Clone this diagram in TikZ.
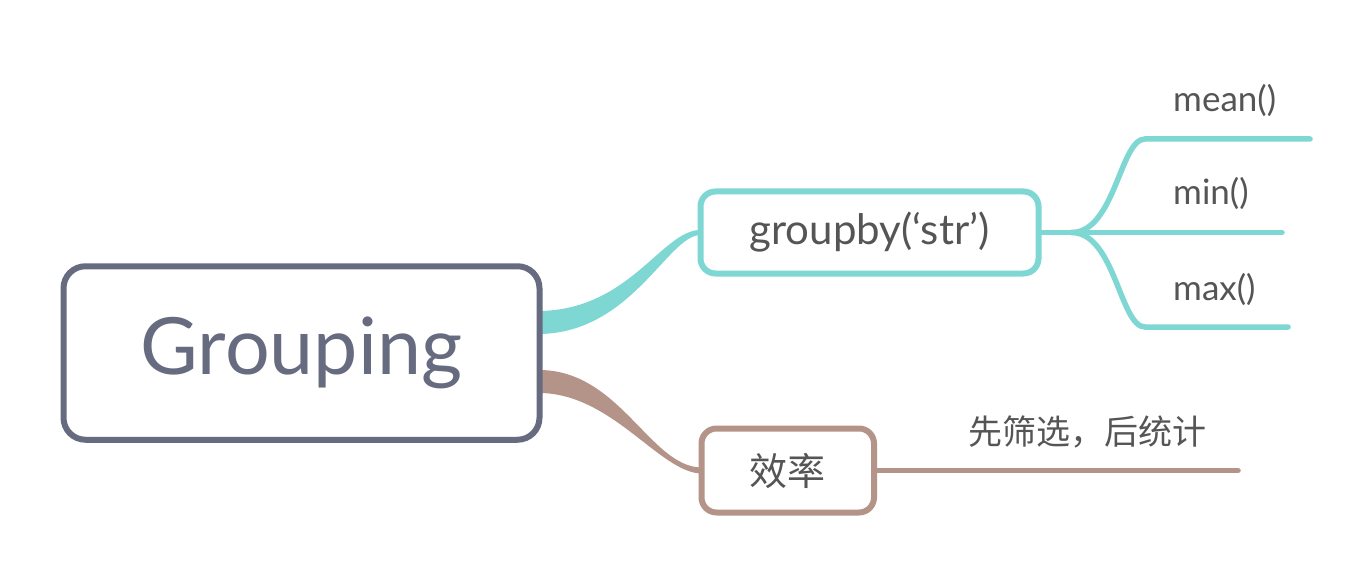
\documentclass[tikz,border=0pt]{standalone}
\usepackage{fontspec}
\setmainfont{Lato}
\newfontfamily\cjk{Noto Sans CJK SC}
\usetikzlibrary{calc,backgrounds}
\definecolor{slatec}{HTML}{676B80}
\definecolor{tealc}{HTML}{7ED7D2}
\definecolor{rosec}{HTML}{B49489}
\definecolor{txtc}{HTML}{555555}
\pgfdeclarelayer{bottomlayer}
\pgfsetlayers{bottomlayer,background,main}
\begin{document}
\begin{tikzpicture}[x=1pt,y=-1pt,
  box/.style={draw, line width=6pt, fill=white, inner sep=0pt},
  conn/.style={line width=5.5pt, line cap=round},
  lbl/.style={text=txtc, font=\fontsize{35}{40}\selectfont, anchor=base west, inner sep=0pt}]
\begin{pgfonlayer}{bottomlayer}
\useasboundingbox[fill=white] (0,0) rectangle (1372,577);
\end{pgfonlayer}

\node[box, draw=slatec, rounded corners=22pt, minimum width=476pt, minimum height=173.5pt,
      text=slatec, font=\fontsize{79}{90}\selectfont] (main) at (301.5,353) {Grouping};
\node[box, draw=tealc, rounded corners=15pt, minimum width=338pt, minimum height=82pt,
      text=txtc, font=\fontsize{42}{48}\selectfont] (gb) at (869.5,232.5) {groupby(‘str’)};
\node[box, draw=rosec, rounded corners=15pt, minimum width=172.5pt, minimum height=84pt,
      text=txtc, font=\cjk\fontsize{38}{44}\selectfont] (eff) at (787.75,470.5) {效率};

\begin{pgfonlayer}{background}
\fill[tealc] ($(main.east)+(-3.5,-42)$) .. controls (630,310) and (662,230) .. ($(gb.west)+(3,-2.5)$)
  -- ($(gb.west)+(3,2.5)$) .. controls (668,235) and (632,333) .. ($(main.east)+(-3.5,-19)$) -- cycle;
\fill[rosec] ($(main.east)+(-3.5,17)$) .. controls (620,370) and (650,467) .. ($(eff.west)+(3,-3)$)
  -- ($(eff.west)+(3,3)$) .. controls (660,473) and (612,393) .. ($(main.east)+(-3.5,40)$) -- cycle;
\end{pgfonlayer}

\coordinate (fork) at ($(gb.east)+(30,0)$);
\coordinate (meanE) at (1310,139);
\coordinate (minE) at (1282,232.5);
\coordinate (maxE) at (1288,327);
\coordinate (effE) at (1238,470.5);

\draw[conn, tealc] (gb.east) -- (fork);
\draw[conn, tealc] (fork) .. controls (1115,232.5) and (1120,139) .. (1145,139) -- (meanE);
\draw[conn, tealc] (fork) -- (minE);
\draw[conn, tealc] (fork) .. controls (1115,232.5) and (1120,327) .. (1145,327) -- (maxE);
\draw[conn, rosec] (eff.east) -- (effE);

\node[lbl] (mean) at (1173,112) {mean()};
\node[lbl] (min) at (1173,205) {min()};
\node[lbl] (max) at (1173,300) {max()};
\node[text=txtc, font=\cjk\fontsize{34}{40}\selectfont, inner sep=0pt] (note) at (1087,432) {先筛选，后统计};
\end{tikzpicture}
\end{document}
